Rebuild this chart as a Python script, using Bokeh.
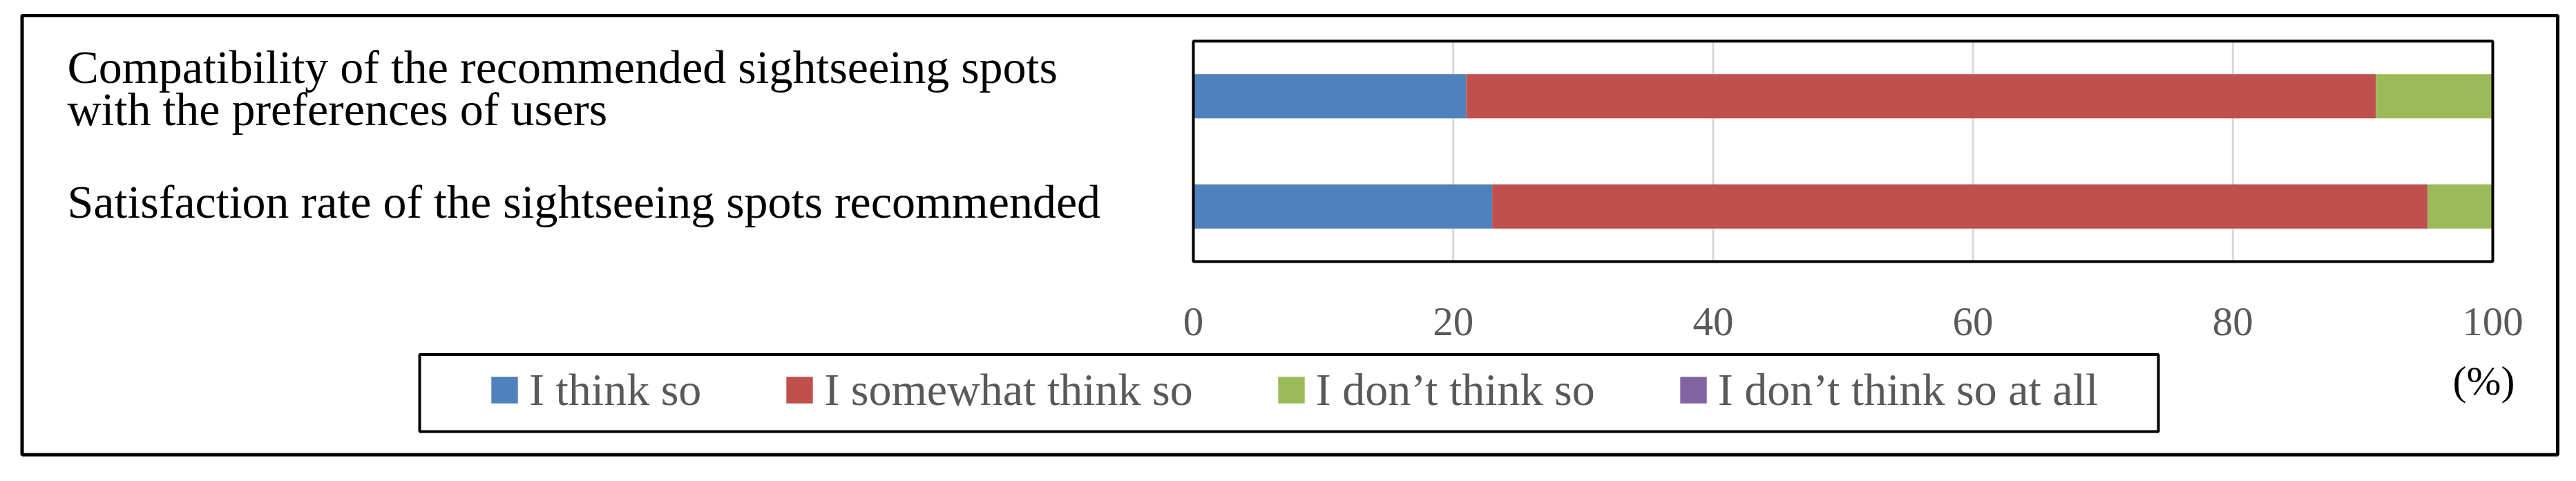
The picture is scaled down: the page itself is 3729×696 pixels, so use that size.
from bokeh.plotting import figure
from bokeh.models import (ColumnDataSource, Range1d, Legend, LegendItem,
                          Label, BoxAnnotation)
from bokeh.embed import file_html
from bokeh.resources import INLINE

# ---------------- data ----------------
categories = [
    "Compatibility of the recommended sightseeing spots with the preferences of users",
    "Satisfaction rate of the sightseeing spots recommended",
]
category_lines = [
    ["Compatibility of the recommended sightseeing spots", "with the preferences of users"],
    ["Satisfaction rate of the sightseeing spots recommended"],
]
series = ["I think so", "I somewhat think so", "I don\u2019t think so", "I don\u2019t think so at all"]
think_so = [21, 23]
somewhat_think_so = [70, 72]
dont_think_so = [9, 5]
dont_think_so_at_all = [0, 0]
colors = ["#4F81BD", "#C0504D", "#9BBB59", "#8064A2"]
x_ticks = [0, 20, 40, 60, 80, 100]
unit_label = "(%)"

# ---------------- layout constants (canvas px) ----------------
W, H = 3713, 680
FL, FR, FT, FB = 1727, 3608, 59, 378          # bar-area box in canvas px
SERIF = "Liberation Serif"
n = len(categories)
PX = (FR - FL) / 100.0                          # px per x unit
PY = (FB - FT) / n                              # px per category band


def xd(cx):   # canvas x -> data x
    return (cx - FL) / PX


def yd(cy):   # canvas y -> data y (band centres at integer positions)
    return (n + 0.5) - (cy - FT) / PY


cat_y = [n - i for i in range(n)]   # top category first

source = ColumnDataSource(data={
    "y": cat_y,
    series[0]: think_so,
    series[1]: somewhat_think_so,
    series[2]: dont_think_so,
    series[3]: dont_think_so_at_all,
})

p = figure(width=W, height=H, title=None,
           x_range=Range1d(xd(0), xd(W)), y_range=Range1d(yd(H), yd(0)),
           x_axis_location=None, y_axis_location=None,
           output_backend="svg", toolbar_location=None, min_border=0)
p.background_fill_color = "white"
p.border_fill_color = "white"
p.outline_line_color = None
p.grid.visible = False

# vertical gridlines at the tick positions, within the bar area
p.segment(x0=x_ticks, x1=x_ticks, y0=[0.5] * len(x_ticks), y1=[n + 0.5] * len(x_ticks),
          line_color="#D9D9D9", line_width=3)

renderers = p.hbar_stack(series, y="y", height=0.4, color=colors,
                         line_color=None, source=source)

# box around the bar area
p.add_layout(BoxAnnotation(left=0, right=100, bottom=0.5, top=n + 0.5,
                           fill_color=None, fill_alpha=0, line_color="black",
                           line_alpha=1, line_width=4))

# tick labels
p.text(x=x_ticks, y=[yd(465)] * len(x_ticks), text=[str(t) for t in x_ticks],
       text_font=SERIF, text_font_size="59px", text_color="#595959",
       text_align="center", text_baseline="middle")

# category labels (left-aligned); text centres relative to band centre, px downwards
centre_px = [[-42.75, 18.75], [-6.9]]
for yc, lines, offs in zip(cat_y, category_lines, centre_px):
    for line, off in zip(lines, offs):
        p.add_layout(Label(x=xd(97), y=yc - off / PY,
                           text=line, text_font=SERIF,
                           text_font_size="68px", text_color="black",
                           text_align="left", text_baseline="middle"))

# unit label
p.add_layout(Label(x=xd(3595), y=yd(550), text=unit_label, text_font=SERIF,
                   text_font_size="60px", text_color="black",
                   text_align="center", text_baseline="middle"))

# legend
legend = Legend(items=[LegendItem(label=s, renderers=[r]) for s, r in zip(series, renderers)],
                orientation="horizontal", location=(706, H - 602),
                glyph_width=48, glyph_height=48, label_standoff=12, spacing=118,
                padding=0, margin=0, border_line_color=None, background_fill_alpha=0,
                label_text_font=SERIF, label_text_font_size="66px",
                label_text_color="#595959")
p.add_layout(legend)

# legend frame and outer frame
p.add_layout(BoxAnnotation(left=xd(607), right=xd(3124), top=yd(512.5), bottom=yd(624),
                           fill_color=None, fill_alpha=0, line_color="black",
                           line_alpha=1, line_width=4))
p.add_layout(BoxAnnotation(left=xd(31.5), right=xd(3702), top=yd(22), bottom=yd(657.5),
                           fill_color=None, fill_alpha=0, line_color="black",
                           line_alpha=1, line_width=5))

open("out.html", "w").write(file_html(p, INLINE))
